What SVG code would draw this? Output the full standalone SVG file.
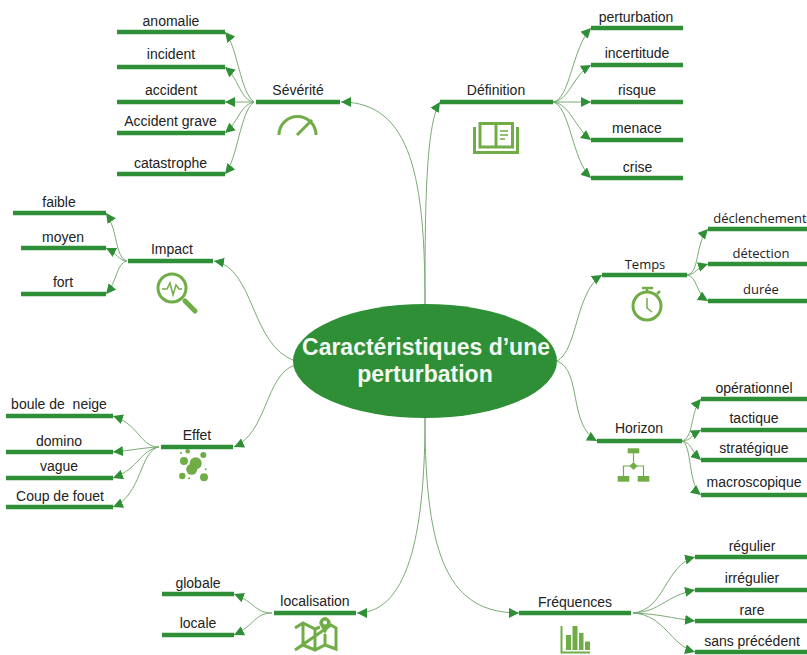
<svg xmlns="http://www.w3.org/2000/svg" width="807" height="655" viewBox="0 0 807 655">
<style>
text{font-family:"Liberation Sans",Arial,sans-serif;font-size:14px;fill:#222;text-anchor:middle}
.os{font-family:"Open Sans","Liberation Sans",sans-serif;font-size:13px}
.bar{stroke:#2f8f36;stroke-width:4.500;fill:none}
.c{fill:none;stroke:#7bab76;stroke-width:1;marker-end:url(#a)}
.i{fill:none;stroke:#70ad47;stroke-width:3}
.f{fill:#70ad47;stroke:none}
.title{font-size:23px;font-weight:bold;fill:#f4f8f2}
</style>
<defs><marker id="a" markerUnits="userSpaceOnUse" markerWidth="11" markerHeight="11" refX="10" refY="5" orient="auto"><path d="M0,0L10,5L0,10z" fill="#2f8f36"/></marker></defs>
<rect width="807" height="655" fill="#fff"/>
<g id="connectors">
<path class="c" d="M425 304C425 180 412 102 341 102"/>
<path class="c" d="M425 304C425 220 425 125 440 102"/>
<path class="c" d="M295 361C250 345 255 268 214 261"/>
<path class="c" d="M557 361C578 350 575 292 602 275"/>
<path class="c" d="M295 365C265 375 268 432 234 447"/>
<path class="c" d="M557 361C582 370 568 425 597 441"/>
<path class="c" d="M425 418C425 520 412 613 357 613"/>
<path class="c" d="M425 418C425 560 450 613 519 613"/>
<path class="c" d="M254 102C240 92 238 48 225 32"/>
<path class="c" d="M254 102C240 100 240 80 225 67"/>
<path class="c" d="M254 102L225 102"/>
<path class="c" d="M254 102C240 105 240 120 225 133"/>
<path class="c" d="M254 102C240 112 238 158 225 174"/>
<path class="c" d="M553 102C570 100 572 48 591 28"/>
<path class="c" d="M553 102C570 100 572 76 591 65"/>
<path class="c" d="M553 102L591 102"/>
<path class="c" d="M553 102C570 104 575 128 591 140"/>
<path class="c" d="M553 102C570 106 572 160 591 178"/>
<path class="c" d="M127 261C115 258 118 230 106 213"/>
<path class="c" d="M127 261C118 260 118 254 106 248"/>
<path class="c" d="M127 261C116 264 118 280 106 294"/>
<path class="c" d="M687 275C700 273 695 243 708 229"/>
<path class="c" d="M687 275C697 274 695 268 708 264"/>
<path class="c" d="M687 275C698 277 695 293 708 301"/>
<path class="c" d="M159 447C140 447 140 425 113 416"/>
<path class="c" d="M159 447C140 448 135 450 113 452"/>
<path class="c" d="M159 447C140 450 140 468 113 478"/>
<path class="c" d="M159 447C140 450 142 495 113 507"/>
<path class="c" d="M682 441C694 438 690 412 701 399"/>
<path class="c" d="M682 441C692 440 690 436 701 430"/>
<path class="c" d="M682 441C692 443 690 450 701 460"/>
<path class="c" d="M682 441C692 444 688 485 701 495"/>
<path class="c" d="M272 613C255 613 255 602 234 594"/>
<path class="c" d="M272 613C255 613 255 625 234 635"/>
<path class="c" d="M633 613C665 610 665 565 695 557"/>
<path class="c" d="M633 613C660 612 665 596 695 590"/>
<path class="c" d="M633 613C660 614 670 618 695 621"/>
<path class="c" d="M633 613C665 615 670 645 695 652"/>
</g>
<g id="center"><ellipse cx="425" cy="361" rx="132" ry="57" fill="#2f8f36"/><text class="title" x="426" y="354.500">Caractéristiques d’une</text><text class="title" x="425" y="382">perturbation</text></g>
<g id="severite"><path class="bar" d="M256 102H340"/><text x="298" y="95">Sévérité</text>
<path class="i" d="M279 135A18.500 18.500 0 0 1 316 135"/><path d="M297 135L312 120" stroke="#70ad47" stroke-width="3" fill="none"/></g>
<g id="n-anomalie"><path class="bar" d="M117 32H225"/><text x="171" y="25.500">anomalie</text></g>
<g id="n-incident"><path class="bar" d="M117 67H225"/><text x="171" y="59">incident</text></g>
<g id="n-accident"><path class="bar" d="M117 102H225"/><text x="171" y="95">accident</text></g>
<g id="n-grave"><path class="bar" d="M117 133H225"/><text x="170.500" y="126">Accident grave</text></g>
<g id="n-catastrophe"><path class="bar" d="M117 174H225"/><text x="170.500" y="168">catastrophe</text></g>
<g id="definition"><path class="bar" d="M440 102H553"/><text x="496" y="95">Définition</text>
<path class="i" d="M480 123.500H512.500V147H480ZM496 123.500V147"/><path class="i" d="M474.500 127V152.500H517.500V127"/><path d="M500 131H508M500 135H508M500 139H505" stroke="#70ad47" stroke-width="1.500" fill="none"/></g>
<g id="n-perturbation"><path class="bar" d="M591 28H683"/><text x="636" y="21.500">perturbation</text></g>
<g id="n-incertitude"><path class="bar" d="M591 65H683"/><text x="637" y="58">incertitude</text></g>
<g id="n-risque"><path class="bar" d="M591 102H683"/><text x="637" y="95">risque</text></g>
<g id="n-menace"><path class="bar" d="M591 140H683"/><text x="637" y="133">menace</text></g>
<g id="n-crise"><path class="bar" d="M591 178H683"/><text x="637.500" y="172">crise</text></g>
<g id="impact"><path class="bar" d="M128 261H213"/><text x="172" y="254">Impact</text>
<circle class="i" cx="172" cy="288" r="14"/><path d="M185 301L195 311" stroke="#70ad47" stroke-width="5" stroke-linecap="round" fill="none"/><path d="M162 289H167L170 283L173 295L176 285L179 289H182" stroke="#70ad47" stroke-width="1.500" fill="none"/></g>
<g id="n-faible"><path class="bar" d="M13 213H106"/><text x="59" y="206.500">faible</text></g>
<g id="n-moyen"><path class="bar" d="M21 248H106"/><text x="63" y="241.500">moyen</text></g>
<g id="n-fort"><path class="bar" d="M21 294H106"/><text x="63" y="287">fort</text></g>
<g id="temps"><path class="bar" d="M602 275H687"/><text class="os" x="645" y="269">Temps</text>
<circle class="i" cx="647" cy="306" r="14"/><path d="M642 288H653M647 288V292M657 294L660 291" stroke="#70ad47" stroke-width="2.500" fill="none"/><path d="M647 298V308L652 312" stroke="#70ad47" stroke-width="1.500" fill="none"/></g>
<g id="n-declenchement"><path class="bar" d="M708 229H807"/><text class="os" x="760" y="223">déclenchement</text></g>
<g id="n-detection"><path class="bar" d="M708 264H807"/><text class="os" x="761" y="258">détection</text></g>
<g id="n-duree"><path class="bar" d="M708 301H807"/><text class="os" x="761" y="294">durée</text></g>
<g id="effet"><path class="bar" d="M161 447H233"/><text x="197" y="440">Effet</text>
<g class="f"><circle cx="187.700" cy="451.300" r="2.300"/><circle cx="203.300" cy="455" r="3"/><circle cx="184" cy="461" r="4"/><circle cx="195.700" cy="463.300" r="6"/><circle cx="191.700" cy="469.300" r="5.500"/><circle cx="182.300" cy="476" r="3.200"/><circle cx="204" cy="477.300" r="4"/><circle cx="181" cy="453" r="1"/><circle cx="205.700" cy="469.300" r="1"/><circle cx="189" cy="478.300" r="1"/></g></g>
<g id="n-boule"><path class="bar" d="M6 416H113"/><text x="59" y="409" xml:space="preserve">boule de  neige</text></g>
<g id="n-domino"><path class="bar" d="M6 452H113"/><text x="59" y="445.500">domino</text></g>
<g id="n-vague"><path class="bar" d="M6 478H113"/><text x="59" y="470.500">vague</text></g>
<g id="n-coup"><path class="bar" d="M6 507H113"/><text x="60" y="500.500">Coup de fouet</text></g>
<g id="horizon"><path class="bar" d="M597 441H682"/><text x="639" y="433">Horizon</text>
<g class="f"><rect x="627.700" y="448.300" width="11.600" height="5"/><path d="M633.500 462L637.500 466L633.500 470L629.500 466z"/><rect x="617.700" y="476" width="11.600" height="5.700"/><rect x="637.700" y="476" width="11.600" height="5.700"/></g>
<path d="M633.500 453V462M630 466H623.500V476M637 466H643.500V476" stroke="#70ad47" stroke-width="1.200" fill="none"/></g>
<g id="n-operationnel"><path class="bar" d="M701 399H807"/><text x="754" y="392.500">opérationnel</text></g>
<g id="n-tactique"><path class="bar" d="M701 430H807"/><text x="754" y="423">tactique</text></g>
<g id="n-strategique"><path class="bar" d="M701 460H807"/><text x="754" y="452.500">stratégique</text></g>
<g id="n-macroscopique"><path class="bar" d="M701 495H807"/><text x="754" y="487">macroscopique</text></g>
<g id="localisation"><path class="bar" d="M274 613H356"/><text x="315" y="606">localisation</text>
<path class="i" d="M295 628L303 623L315 629L320 627M331 625L336 628V649L325 645L315 650L303 645L295 650ZM303 623V645M315 629V650M325 634V645"/><path d="M325 634L320.500 626A5.500 5.500 0 1 1 329.500 626Z" fill="#70ad47"/><circle cx="325" cy="622.500" r="2" fill="#fff"/></g>
<g id="n-globale"><path class="bar" d="M162 594H234"/><text x="198" y="587.500">globale</text></g>
<g id="n-locale"><path class="bar" d="M162 635H234"/><text x="198" y="627.500">locale</text></g>
<g id="frequences"><path class="bar" d="M519 613H631"/><text x="575" y="606.500">Fréquences</text>
<path d="M561.500 626V652.500H590" stroke="#70ad47" stroke-width="2" fill="none"/><g class="f"><rect x="566" y="635" width="5" height="15"/><rect x="572.500" y="626" width="5" height="24"/><rect x="579" y="633" width="4.500" height="17"/><rect x="585" y="641.500" width="5" height="8.500"/></g></g>
<g id="n-regulier"><path class="bar" d="M695 557H807"/><text x="752" y="551">régulier</text></g>
<g id="n-irregulier"><path class="bar" d="M695 590H807"/><text x="752" y="583">irrégulier</text></g>
<g id="n-rare"><path class="bar" d="M695 621H807"/><text x="752" y="615">rare</text></g>
<g id="n-sans"><path class="bar" d="M695 652H807"/><text x="752" y="646">sans précédent</text></g>
</svg>
